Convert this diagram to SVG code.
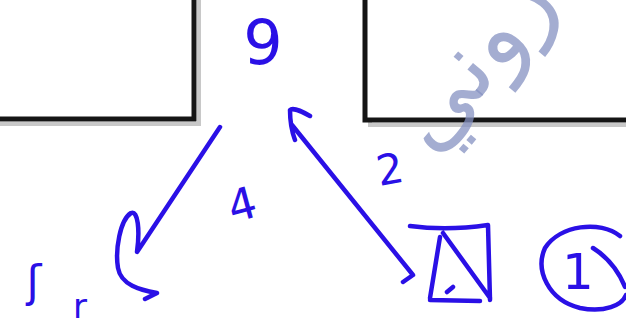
<svg xmlns="http://www.w3.org/2000/svg" width="626" height="325" viewBox="0 0 626 325">
<style>
.box{fill:#ffffff;stroke:#151515;stroke-width:5}
.shadow{fill:none;stroke:#c8c8c8;stroke-width:4}
.ink{fill:none;stroke:#2a10e6;stroke-width:4.5;stroke-linecap:round;stroke-linejoin:round}
.hand{font-family:"DejaVu Sans",sans-serif;fill:#2a10e6}
.wm{font-family:"DejaVu Sans","Noto Sans",sans-serif;fill:#8592c2;fill-opacity:0.75}
</style>
<rect width="626" height="325" fill="#ffffff"/>
<g id="box-left">
<path class="shadow" d="M199,-5 V124 H-5"/>
<rect class="box" x="-10" y="-10" width="204" height="129"/>
</g>
<g id="box-right">
<path class="shadow" d="M370,-5 V125 H640"/>
<rect class="box" x="365" y="-10" width="280" height="130"/>
</g>
<g id="watermark">
<text class="wm" x="474" y="90" font-size="96" text-anchor="middle" transform="rotate(-50 474 62)">روني</text>
</g>
<g id="node-9">
<text class="hand" x="263" y="64" font-size="62" text-anchor="middle">9</text>
</g>
<g id="node-laptop">
<path class="ink" d="M410,226 Q447,231 488,225 L490,300 M430,300 L480,301 M440,237 L430,298 M443,233 L490,298 M447,292 L453,287"/>
</g>
<g id="node-1">
<path class="ink" d="M593,248 Q615,262 625,287 M620,236 C600,220 560,225 545,248 C535,270 548,300 580,308 C605,313 622,305 626,295"/>
<text class="hand" x="578" y="289" font-size="50" text-anchor="middle">1</text>
</g>
<g id="node-5">
<text class="hand" x="34" y="297" font-size="44" text-anchor="middle">ʃ</text>
<text class="hand" x="80" y="318" font-size="34" text-anchor="middle">r</text>
</g>
<g id="connectors">
<path class="ink" d="M220,127 L137,252 C140,230 138,210 131,213 C120,220 115,250 118,268 C121,285 140,290 157,293 L145,299"/>
<path class="ink" d="M403,282 L413,275 L292,125 M310,116 C300,110 292,108 290,110 C290,120 292,132 295,140"/>
</g>
<g id="labels">
<text class="hand" x="242" y="220" font-size="44" text-anchor="middle" transform="rotate(-15 242 204)">4</text>
<text class="hand" x="390" y="184" font-size="42" text-anchor="middle" transform="rotate(-10 390 170)">2</text>
</g>
</svg>
